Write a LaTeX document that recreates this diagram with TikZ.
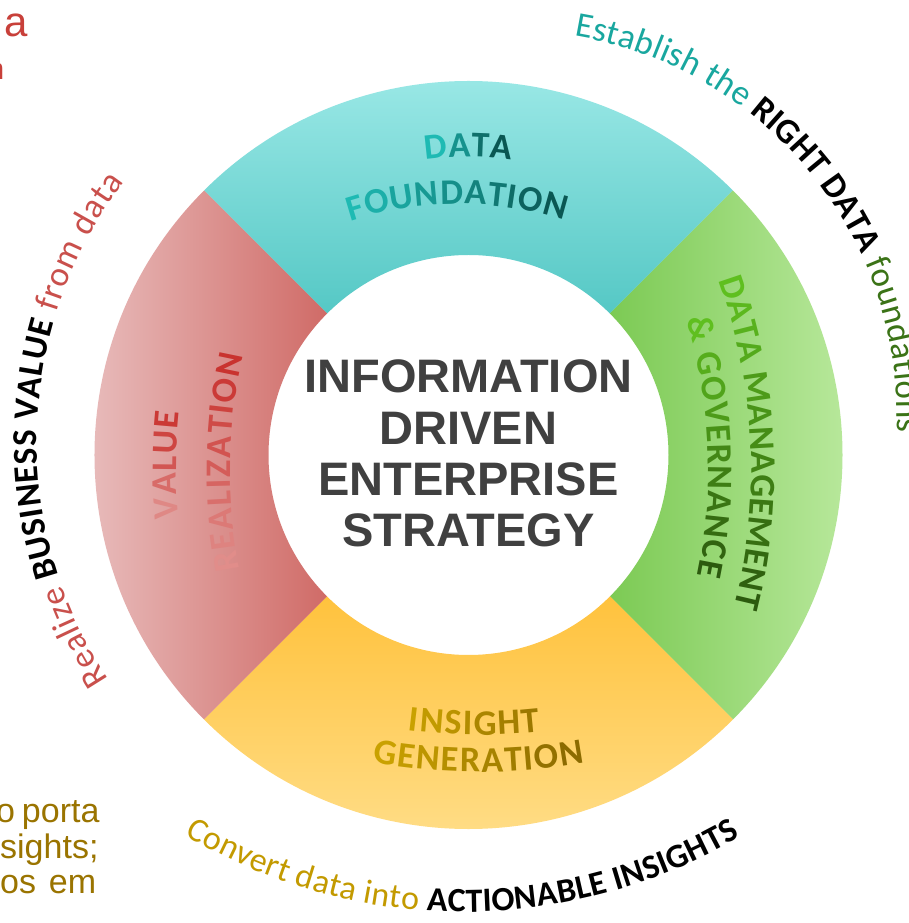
\documentclass[tikz,border=0pt]{standalone}
\usepackage{fontspec}
\setmainfont{Carlito}
\newfontfamily\arialf{Liberation Sans}
\usetikzlibrary{decorations.text}
% segment colours
\definecolor{cyT}{HTML}{A3ECEA}
\definecolor{cyB}{HTML}{55C8C5}
\definecolor{grI}{HTML}{7CCA54}
\definecolor{grO}{HTML}{C0ECA5}
\definecolor{yeT}{HTML}{FFC23D}
\definecolor{yeB}{HTML}{FFE08F}
\definecolor{rdO}{HTML}{EBC6C6}
\definecolor{rdI}{HTML}{D06B67}
% text colours
\definecolor{cyL}{HTML}{1EBAB3}
\definecolor{cyD}{HTML}{0A5753}
\definecolor{grL}{HTML}{5FBF1F}
\definecolor{grD}{HTML}{2C5A0E}
\definecolor{rL}{HTML}{EAB0AE}
\definecolor{rD}{HTML}{C9332F}
\definecolor{inL}{HTML}{C9A100}
\definecolor{inD}{HTML}{9C7800}
\definecolor{geD}{HTML}{8C6B00}
\definecolor{ctrgray}{HTML}{404040}
\definecolor{estl}{HTML}{19A79F}
\definecolor{fgrn}{HTML}{3B7317}
\definecolor{realr}{HTML}{C9504C}
\definecolor{convg}{HTML}{C39A00}
\definecolor{cutred}{HTML}{C8403A}
\definecolor{cutgold}{HTML}{9A7400}
\newcommand\sgf{\normalfont\bfseries\fontsize{36}{36}\selectfont}
\newcommand\sgc[1]{\sgf\color{#1}}
\newcommand\otr{\normalfont\fontsize{35}{35}\selectfont}
\newcommand\otb{\normalfont\bfseries\fontsize{35}{35}\selectfont}
\newcommand\obr{\normalfont\fontsize{34}{34}\selectfont}
\newcommand\obb{\normalfont\bfseries\fontsize{34}{34}\selectfont}
\tikzset{
  arctext/.style={decorate, decoration={text along path, text align=fit to path, text={#1}}},
  ctr/.style={font=\arialf\bfseries\fontsize{47}{47}\selectfont, text=ctrgray, inner sep=0pt, anchor=base},
  cutr/.style={font=\arialf\fontsize{42}{42}\selectfont, text=cutred, inner sep=0pt},
  cutg/.style={font=\arialf\fontsize{34}{34}\selectfont, text=cutgold, inner sep=0pt},
}
\begin{document}
\begin{tikzpicture}[x=1pt,y=1pt]
\useasboundingbox (-468.5,-468) rectangle (440.5,455);
\clip (-468.5,-468) rectangle (440.5,455);
\fill[white] (-468.5,-468) rectangle (440.5,455);
% ring segments
\path[top color=cyT, bottom color=cyB] (45:374pt) arc[start angle=45,end angle=135,radius=374pt] -- (135:200pt) arc[start angle=135,end angle=45,radius=200pt] -- cycle;
\path[left color=grI, right color=grO] (-45:374pt) arc[start angle=-45,end angle=45,radius=374pt] -- (45:200pt) arc[start angle=45,end angle=-45,radius=200pt] -- cycle;
\path[top color=yeT, bottom color=yeB] (225:374pt) arc[start angle=225,end angle=315,radius=374pt] -- (315:200pt) arc[start angle=315,end angle=225,radius=200pt] -- cycle;
\path[left color=rdO, right color=rdI] (135:374pt) arc[start angle=135,end angle=225,radius=374pt] -- (225:200pt) arc[start angle=225,end angle=135,radius=200pt] -- cycle;
% segment labels
\path[arctext={|\sgc{cyL}|D|\sgc{cyL!60!cyD}|A|\sgc{cyL!25!cyD}|T|\sgc{cyD}|A}] (98.3:298pt) arc[start angle=98.3,end angle=81.7,radius=298pt];
\path[arctext={|\sgc{cyL}|F|\sgc{cyL!89!cyD}|O|\sgc{cyL!78!cyD}|U|\sgc{cyL!67!cyD}|N|\sgc{cyL!56!cyD}|D|\sgc{cyL!44!cyD}|A|\sgc{cyL!33!cyD}|T|\sgc{cyL!22!cyD}|I|\sgc{cyL!11!cyD}|O|\sgc{cyD}|N}] (-10pt,-99pt) ++(108:350pt) arc[start angle=108,end angle=72.5,radius=350pt];
\path[arctext={|\sgc{grL}|D|\sgc{grL!93!grD}|A|\sgc{grL!86!grD}|T|\sgc{grL!79!grD}|A |\sgc{grL!64!grD}|M|\sgc{grL!57!grD}|A|\sgc{grL!50!grD}|N|\sgc{grL!43!grD}|A|\sgc{grL!36!grD}|G|\sgc{grL!29!grD}|E|\sgc{grL!21!grD}|M|\sgc{grL!14!grD}|E|\sgc{grL!7!grD}|N|\sgc{grD}|T}] (-276pt,-15pt) ++(19.8:559pt) arc[start angle=19.8,end angle=-14.2,radius=559pt];
\path[arctext={|\sgc{grL}|{\&} |\sgc{grL!82!grD}|G|\sgc{grL!73!grD}|O|\sgc{grL!64!grD}|V|\sgc{grL!55!grD}|E|\sgc{grL!45!grD}|R|\sgc{grL!36!grD}|N|\sgc{grL!27!grD}|A|\sgc{grL!18!grD}|N|\sgc{grL!9!grD}|C|\sgc{grD}|E}] (-276pt,-15pt) ++(16.9:516pt) arc[start angle=16.9,end angle=-11.8,radius=516pt];
\path[arctext={|\sgc{rD!32!rL}|V|\sgc{rD!55!rL}|A|\sgc{rD!72!rL}|L|\sgc{rD!86!rL}|U|\sgc{rD!95!rL}|E}] (276pt,-15pt) ++(184.85:568pt) arc[start angle=184.85,end angle=174.1,radius=568pt];
\path[arctext={|\sgc{rD!28!rL}|R|\sgc{rD!36!rL}|E|\sgc{rD!44!rL}|A|\sgc{rD!52!rL}|L|\sgc{rD!60!rL}|I|\sgc{rD!67!rL}|Z|\sgc{rD!74!rL}|A|\sgc{rD!81!rL}|T|\sgc{rD!88!rL}|I|\sgc{rD!94!rL}|O|\sgc{rD}|N}] (276pt,-15pt) ++(191.2:514.5pt) arc[start angle=191.2,end angle=167.1,radius=514.5pt];
\path[arctext={|\sgc{inL}|I|\sgc{inL!83!inD}|N|\sgc{inL!67!inD}|S|\sgc{inL!50!inD}|I|\sgc{inL!33!inD}|G|\sgc{inL!17!inD}|H|\sgc{inD}|T}] (10pt,283pt) ++(262.8:563pt) arc[start angle=262.8,end angle=276.3,radius=563pt];
\path[arctext={|\sgc{inL}|G|\sgc{inL!89!geD}|E|\sgc{inL!78!geD}|N|\sgc{inL!67!geD}|E|\sgc{inL!56!geD}|R|\sgc{inL!44!geD}|A|\sgc{inL!33!geD}|T|\sgc{inL!22!geD}|I|\sgc{inL!11!geD}|O|\sgc{geD}|N}] (10pt,283pt) ++(259.8:600pt) arc[start angle=259.8,end angle=280.2,radius=600pt];
% centre text
\node[ctr] (c1) at (0,62) {INFORMATION};
\node[ctr] (c2) at (0,10) {DRIVEN};
\node[ctr] (c3) at (0,-41) {ENTERPRISE};
\node[ctr] (c4) at (0,-92) {STRATEGY};
% outer curved texts
\path[arctext={|\otr\color{estl}|Establish the |\otb\color{black}|RIGHT DATA|\otr\color{fgrn}| foundations}] (43.5pt,39pt) ++(80.7:385pt) arc[start angle=80.7,end angle=-2.4,radius=385pt];
\path[arctext={|\otr\color{realr}|Realize |\otb\color{black}|BUSINESS VALUE|\otr\color{realr}| from data}] (1.5pt,13pt) ++(213.3:433pt) arc[start angle=213.3,end angle=143.1,radius=433pt];
\path[arctext={|\obr\color{convg}|Convert data into |\obb\color{black}|ACTIONABLE INSIGHTS}] (-4.5pt,88pt) ++(239.2:545pt) arc[start angle=239.2,end angle=300.4,radius=545pt];
% cropped texts at the edges
\node[cutr, anchor=base east] (ta) at (-440,418.5) {a};
\node[cutr, font=\arialf\fontsize{30}{30}\selectfont, anchor=base east] (tn) at (-464,375) {n};
\node[cutg, anchor=base west] (b1) at (-472.5,-367) {\makebox[103.3pt][s]{o porta}};
\node[cutg, anchor=base west] (b2) at (-468.5,-403) {sights;};
\node[cutg, anchor=base west] (b3) at (-468.5,-438) {\makebox[96pt][s]{os em}};
\end{tikzpicture}
\end{document}
